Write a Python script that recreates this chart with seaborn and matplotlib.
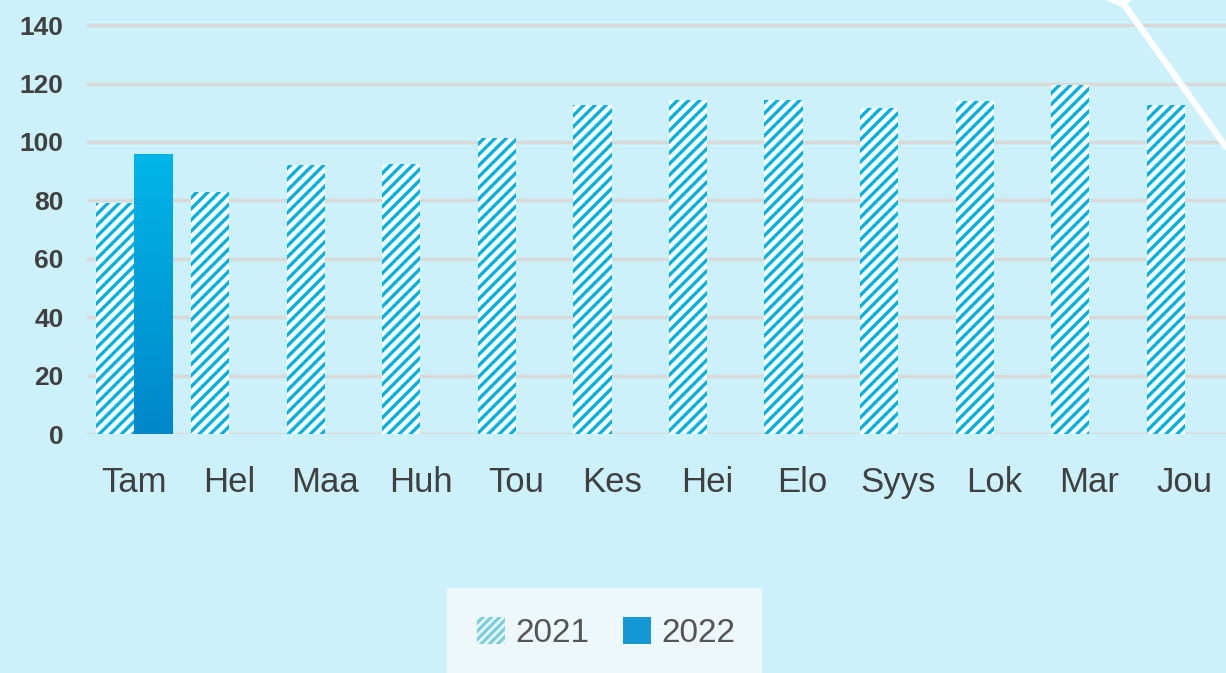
import numpy as np
import pandas as pd
import seaborn as sns
import matplotlib
import matplotlib.pyplot as plt
from matplotlib.patches import Rectangle, Patch, Polygon
from matplotlib.lines import Line2D

# Data
months = ["Tam", "Hel", "Maa", "Huh", "Tou", "Kes", "Hei", "Elo", "Syys", "Lok", "Mar", "Jou"]
values_2021 = [79, 83, 92, 92.5, 101.5, 112.5, 114.5, 114.5, 111.5, 114, 119.5, 112.5]
values_2022 = [96, None, None, None, None, None, None, None, None, None, None, None]
years = ["2021", "2022"]
yticks = [0, 20, 40, 60, 80, 100, 120, 140]

bg = '#CCF1FA'
stripe_blue = '#00B2E3'

df = pd.DataFrame({
    "Kuukausi": months * 2,
    "Vuosi": [years[0]] * len(months) + [years[1]] * len(months),
    "Arvo": values_2021 + values_2022,
}).dropna()

sns.set_style('white')
matplotlib.rcParams['font.family'] = ['Liberation Sans', 'DejaVu Sans']
matplotlib.rcParams['hatch.linewidth'] = 2.4

W, H = 1226, 673
fig = plt.figure(figsize=(W / 100, H / 100), dpi=100)
fig.patch.set_facecolor(bg)
ax = fig.add_axes([87 / W, 1 - 434 / H, 1 - 87 / W, 434 / H])
ax.set_facecolor(bg)

sns.barplot(data=df, x="Kuukausi", y="Arvo", hue="Vuosi", order=months, hue_order=years,
            palette=[stripe_blue, '#0099D8'], width=0.8, ax=ax, legend=False)

# striped 2021 bars
for p in ax.containers[0]:
    p.set_facecolor('white')
    p.set_edgecolor(stripe_blue)
    p.set_hatch('///')
    p.set_linewidth(0)

# gradient 2022 bar
grad = np.linspace(0, 1, 256).reshape(-1, 1)
cmap = matplotlib.colors.LinearSegmentedColormap.from_list('g', ['#00B6E8', '#0087CB'])
for p in ax.containers[1]:
    x0, y0 = p.get_x(), p.get_y()
    w, h = p.get_width(), p.get_height()
    p.set_facecolor('none')
    p.set_linewidth(0)
    im = ax.imshow(grad, cmap=cmap, aspect='auto', extent=[x0, x0 + w, y0, y0 + h],
                   origin='upper', zorder=p.get_zorder())
    im.set_clip_path(p)

ax.set_xlim(-0.49, 11.43)
ax.set_ylim(0, 148.6)
ax.set_yticks(yticks)
ax.yaxis.grid(True, color='#D9D9D9', linewidth=2.5)
ax.set_axisbelow(True)
for s in ax.spines.values():
    s.set_visible(False)
ax.set_xlabel("")
ax.set_ylabel("")
ax.tick_params(axis='both', length=0)
ax.tick_params(axis='x', pad=23, labelsize=25, labelcolor='#404040')
ax.tick_params(axis='y', pad=17, labelsize=19, labelcolor='#404040')
for t in ax.get_yticklabels():
    t.set_fontweight('bold')

# decorative white line top right
fig.add_artist(Line2D([1123 / W, 1226 / W], [1 - 3 / H, 1 - 147 / H], color='white', linewidth=4.5))
fig.add_artist(Polygon([(1105 / W, 1), (1132 / W, 1), (1124 / W, 1 - 8 / H)], closed=True,
                       facecolor='white', edgecolor='none'))

# legend panel
fig.add_artist(Rectangle((447 / W, 0), 315 / W, 85 / H, facecolor='#EEF8FB', edgecolor='none'))
handles = [Patch(facecolor='#EEF8FB', edgecolor='#7CCFDD', hatch='////', linewidth=0),
           Patch(facecolor='#1499D6', edgecolor='none')]
fig.legend(handles, years, loc='center', bbox_to_anchor=(606 / W, 1 - 633 / H), ncol=2,
           frameon=False, fontsize=24, labelcolor='#555555', handlelength=0.85, handleheight=0.85,
           handletextpad=0.3, columnspacing=1.0)

fig.savefig('out.png', dpi=100, facecolor=bg)
